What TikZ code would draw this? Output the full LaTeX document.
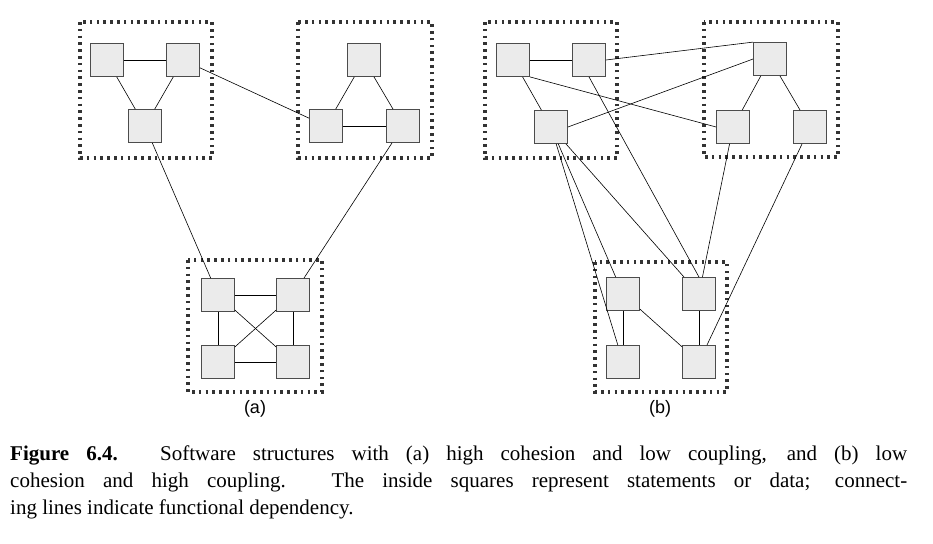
\documentclass[tikz,border=0pt]{standalone}
\usepackage{fontspec}
\setmainfont{Liberation Serif}
\newfontfamily\labelfont{Liberation Sans}
\usetikzlibrary{positioning}
\tikzset{
  stmt/.style={draw=black!70, fill=black!8, minimum size=33pt, inner sep=0pt, line width=0.8pt},
  module/.style={draw=black!80, line width=3.4pt, dash pattern=on 2.6pt off 4.2pt},
  dep/.style={line width=0.6pt}
}
\begin{document}
\begin{tikzpicture}[x=1pt,y=-1pt]
\useasboundingbox (0,0) rectangle (933,543);
% (a)
\draw[module] (80,22) rectangle (212,158);
\draw[module] (298,22) rectangle (432,158);
\draw[module] (188,260) rectangle (322,392);
\node[stmt] (a1) at (107,60) {};
\node[stmt] (a2) at (183,60) {};
\node[stmt] (a3) at (145,126) {};
\node[stmt] (b1) at (364,60) {};
\node[stmt] (b2) at (326,126) {};
\node[stmt] (b3) at (403,126) {};
\node[stmt] (c1) at (218,295) {};
\node[stmt] (c2) at (293,295) {};
\node[stmt] (c3) at (218,362) {};
\node[stmt] (c4) at (293,362) {};
\foreach \u/\v in {a1/a2,a1/a3,a2/a3,b1/b2,b1/b3,b2/b3,a2/b2,a3/c1,b3/c2,
                   c1/c2,c1/c3,c2/c4,c3/c4,c1/c4,c2/c3}
  \draw[dep] (\u) -- (\v);
\node[font=\labelfont\fontsize{18}{20}\selectfont] (la) at (255,409) {(a)};
% (b)
\draw[module] (485,22) rectangle (617,158);
\draw[module] (704,22) rectangle (838,157);
\draw[module] (595,262) rectangle (727,392);
\node[stmt] (d1) at (513,60) {};
\node[stmt] (d2) at (589,60) {};
\node[stmt] (d3) at (551,127) {};
\node[stmt] (e1) at (770,59) {};
\node[stmt] (e2) at (733,127) {};
\node[stmt] (e3) at (810,127) {};
\node[stmt] (f1) at (623,294) {};
\node[stmt] (f2) at (699,294) {};
\node[stmt] (f3) at (623,362) {};
\node[stmt] (f4) at (699,362) {};
\foreach \u/\v in {d1/d2,d1/d3,e1/e2,e1/e3,e2/f2,
                   e3/f4,d3/f3,d3/f1,d3/f2,f1/f3,f1/f4,f2/f4}
  \draw[dep] (\u) -- (\v);
\draw[dep] (d2.east) -- (e1.north west);
\draw[dep] (d3.east) -- (e1.west);
\draw[dep] (d1.south east) -- (e2.west);
\draw[dep] (d2.south) -- (f2.north);
\node[font=\labelfont\fontsize{18}{20}\selectfont] (lb) at (660,409) {(b)};
% caption
\node[anchor=north west, text width=897pt, align=justify, inner sep=0pt,
      font=\fontsize{21}{27}\selectfont] (cap) at (10,446)
  {\textbf{Figure 6.4.} Software structures with (a) high cohesion and low coupling, and (b) low\linebreak
   cohesion and high coupling. The inside squares represent statements or data; connect-\linebreak
   ing lines indicate functional dependency.};
\end{tikzpicture}
\end{document}
